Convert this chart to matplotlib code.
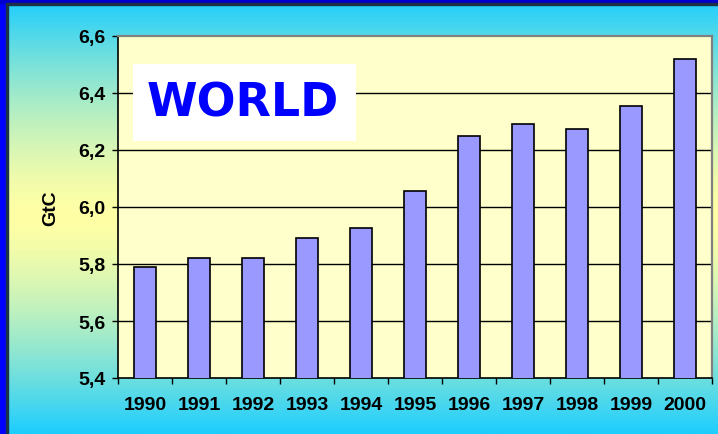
import numpy as np
import matplotlib
matplotlib.use("Agg")
import matplotlib.pyplot as plt
from matplotlib.patches import Rectangle

# Global carbon emissions (GtC) by year
years = ["1990", "1991", "1992", "1993", "1994", "1995",
         "1996", "1997", "1998", "1999", "2000"]
emissions = [5.79, 5.82, 5.82, 5.89, 5.925, 6.055,
             6.25, 6.29, 6.275, 6.355, 6.52]
y_ticks = [5.4, 5.6, 5.8, 6.0, 6.2, 6.4, 6.6]
y_tick_labels = ["5,4", "5,6", "5,8", "6,0", "6,2", "6,4", "6,6"]

W, H = 718, 435
fig = plt.figure(figsize=(W / 100, H / 100), dpi=100)

# vertical cyan -> pale yellow -> cyan background
bg = fig.add_axes([0, 0, 1, 1], zorder=-5)
yy = np.linspace(-1, 1, 400)
frac = 1 - np.abs(yy) ** 1.5
cyan = np.array([28, 205, 255]) / 255
yellow = np.array([255, 255, 165]) / 255
grad = cyan[None, :] * (1 - frac[:, None]) + yellow[None, :] * frac[:, None]
bg.imshow(grad[:, None, :], aspect="auto", extent=[0, 1, 0, 1])
bg.set_xlim(0, 1)
bg.set_ylim(0, 1)
bg.axis("off")

# blue frame on the left and top edges
bg.add_patch(Rectangle((0, 0), 6 / W, 1, color="#0000ff", zorder=3))
bg.add_patch(Rectangle((6 / W, 0), 1.5 / W, 1 - 4 / H, color="#1c3048", zorder=3))
bg.add_patch(Rectangle((0, 1 - 4 / H), 1, 4 / H, color="#0000cc", zorder=3))
bg.add_patch(Rectangle((6 / W, 1 - 5.5 / H), 1, 1.5 / H, color="#1c3048", zorder=3))

ax = fig.add_axes([118 / W, 1 - 379 / H, 594 / W, 342 / H])
ax.set_facecolor("#ffffcc")

x = np.arange(len(years))
ax.bar(x, emissions, width=0.41, bottom=0, color="#9999ff",
       edgecolor="black", linewidth=1.2, zorder=3)

ax.set_ylim(5.4, 6.6)
ax.set_xlim(-0.5, len(years) - 0.5)
ax.set_yticks(y_ticks)
ax.set_yticklabels(y_tick_labels, fontsize=14, fontweight="bold",
                   family="Liberation Sans")
ax.set_xticks(x)
ax.set_xticklabels(years, fontsize=14, fontweight="bold",
                   family="Liberation Sans")
ax.set_xticks(np.arange(len(years) + 1) - 0.5, minor=True)
ax.tick_params(axis="x", which="major", length=0, pad=13)
ax.tick_params(axis="x", which="minor", length=4, width=1, direction="out")
ax.tick_params(axis="y", which="major", length=4, width=1, pad=5)

for v in y_ticks[1:-1]:
    ax.axhline(v, color="black", linewidth=1.0, zorder=1)

for side in ("left", "bottom"):
    ax.spines[side].set_color("black")
    ax.spines[side].set_linewidth(1.2)
for side in ("top", "right"):
    ax.spines[side].set_color("#808080")
    ax.spines[side].set_linewidth(1.6)

ax.set_ylabel("GtC", fontsize=14, fontweight="bold", family="Liberation Sans",
              labelpad=14)

# title box
ax.add_patch(Rectangle((0.0253, 0.693), 0.3754, 0.225, transform=ax.transAxes,
                       facecolor="white", edgecolor="none", zorder=4))
ax.text(0.21, 0.805, "WORLD", transform=ax.transAxes, ha="center", va="center",
        fontsize=33, fontweight="bold", color="#0000ff",
        family="DejaVu Sans", zorder=5)

fig.savefig("out.png", dpi=100)
